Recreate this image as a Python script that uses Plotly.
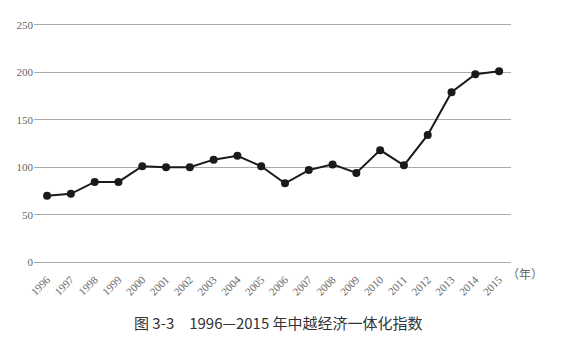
import plotly.graph_objects as go

years = list(range(1996, 2016))
values = [70, 72, 84.5, 84.5, 101, 100, 100, 108, 112, 101, 83, 97, 103, 94, 118, 102, 134, 179, 198, 201]
y_ticks = [0, 50, 100, 150, 200, 250]
x_labels = [str(y) for y in years]
caption = "图 3-3　1996—2015 年中越经济一体化指数"
unit_label = "（年）"

fig = go.Figure()
fig.add_trace(go.Scatter(
    x=years, y=values, mode="lines+markers",
    line=dict(color="#1a1a1a", width=2),
    marker=dict(color="#1a1a1a", size=8),
    showlegend=False, hoverinfo="skip",
))

fig.update_layout(
    width=566, height=354,
    margin=dict(l=34, r=55, t=22, b=89),
    paper_bgcolor="white", plot_bgcolor="white",
    xaxis=dict(
        range=[1995.45, 2015.5], tickvals=years, ticktext=x_labels,
        tickangle=-45, showgrid=False, zeroline=False, showline=False,
        ticks="outside", ticklen=3, tickcolor="rgba(0,0,0,0)",
        tickfont=dict(family="Liberation Serif", size=11, color="#666"),
    ),
    yaxis=dict(
        range=[-3, 253], tickvals=y_ticks, showgrid=True, gridcolor="#aaaaaa",
        gridwidth=1.3, zeroline=False, showline=False, ticks="",
        tickfont=dict(family="Liberation Serif", size=11, color="#666"),
    ),
    annotations=[
        dict(text=caption, xref="paper", yref="paper", x=0.512, y=-0.236,
             xanchor="center", yanchor="middle", showarrow=False,
             font=dict(family="Noto Sans CJK SC", size=15, color="#333")),
        dict(text=unit_label, xref="paper", yref="paper", x=1.03, y=-0.034,
             xanchor="center", yanchor="middle", showarrow=False,
             font=dict(family="Noto Sans CJK SC", size=12, color="#666")),
    ],
)

fig.write_html("out.html")
